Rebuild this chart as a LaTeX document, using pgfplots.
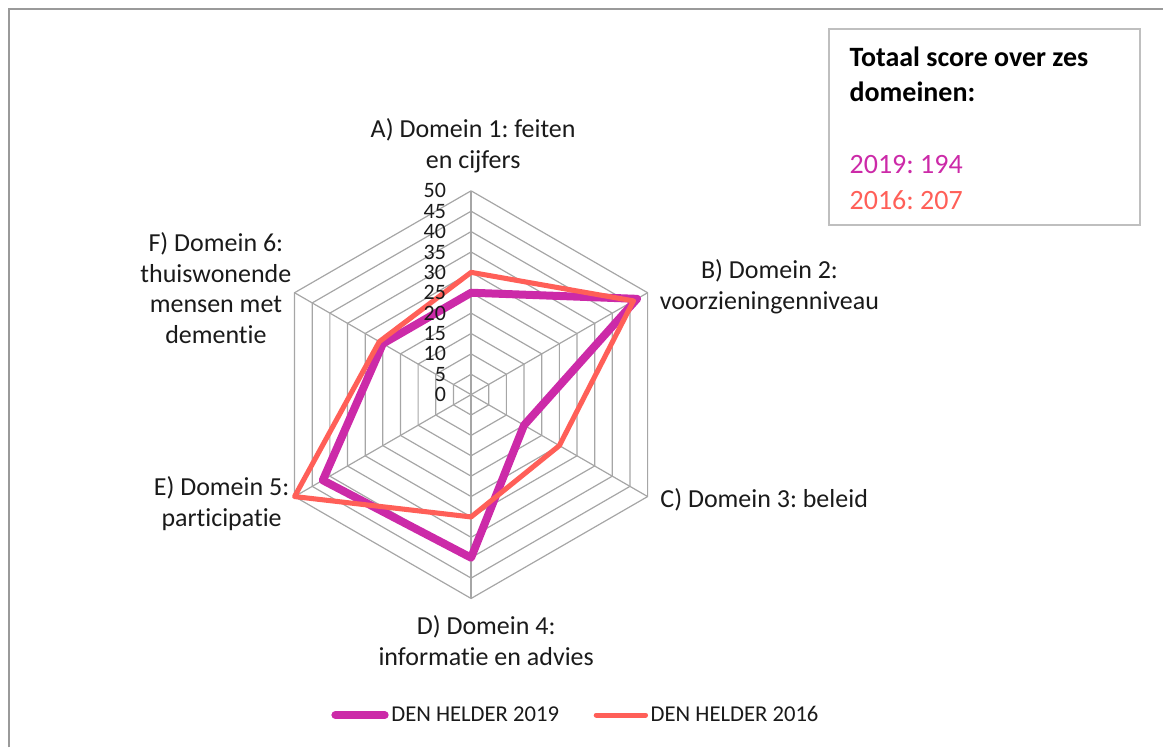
\documentclass[border=0pt]{standalone}
\usepackage{fontspec}
\setmainfont{Carlito}[Ligatures={NoCommon}]
\usepackage{pgfplots}
\usepackage{pgfplotstable}
\pgfplotsset{compat=1.18}

\definecolor{c19}{HTML}{CC2AA8}
\definecolor{c16}{HTML}{FF5F58}
\definecolor{gridgray}{HTML}{A6A6A6}
\definecolor{txt}{HTML}{1A1A1A}
\definecolor{framegray}{HTML}{9A9A9A}
\definecolor{boxgray}{HTML}{BFBFBF}

% angle of each spoke, score 2019, score 2016 (first row repeated to close)
\pgfplotstableread{
angle  y2019  y2016
90     25     30
30     47     46
-30    15     25
-90    40     30
-150   42     50
150    25     26
90     25     30
}\radar

\newcommand{\catfont}{\fontsize{19.5}{23}\selectfont}
\frenchspacing

\begin{document}
\begin{tikzpicture}
\begin{axis}[
    x=3.06pt, y=3.06pt,
    xmin=-115.56, xmax=169.73, ymin=-86.52, ymax=96.81,
    hide axis, clip=false,
    legend columns=2,
    legend style={at={(axis cs:25.8,-78.6)}, anchor=center, draw=none, fill=none,
        font=\fontsize{17}{20}\selectfont, text=txt,
        /tikz/every even column/.append style={column sep=24pt}},
    legend image code/.code={\draw[#1, line cap=round] (0pt,0pt) -- (37pt,0pt);},
]
% page size and outer frame
\path (axis cs:-115.56,-86.52) rectangle (axis cs:169.73,96.81);
\draw[framegray, line width=1.5pt] (axis cs:-113.4,-86.52) -- (axis cs:-113.4,94.6) -- (axis cs:169.73,94.6);

% hexagonal grid
\pgfplotsinvokeforeach{5,10,...,50}{
  \addplot[gridgray, line width=0.9pt, data cs=polar, forget plot]
    coordinates {(90,#1) (30,#1) (-30,#1) (-90,#1) (-150,#1) (150,#1) (90,#1)};
}
\pgfplotsinvokeforeach{90,30,-30,-90,-150,150}{
  \addplot[gridgray, line width=0.9pt, data cs=polar, forget plot]
    coordinates {(#1,0) (#1,50)};
}

% series
\addplot[c19, line width=6pt, line join=round, line cap=round, data cs=polar]
  table[x=angle, y=y2019] {\radar};
\addlegendentry{DEN HELDER 2019}
\addplot[c16, line width=3.8pt, line join=round, line cap=round, data cs=polar]
  table[x=angle, y=y2016] {\radar};
\addlegendentry{DEN HELDER 2016}

% radial tick labels
\pgfplotsinvokeforeach{0,5,...,50}{
  \node[anchor=east, inner sep=0pt, text=txt, font=\fontsize{16.5}{17}\selectfont] at (axis cs:-6.1,#1) {#1};
}

% category labels
\node[align=center, text=txt, font=\catfont] at (axis cs:0.5,61.0) {A) Domein 1: feiten\\en cijfers};
\node[align=center, text=txt, font=\catfont] at (axis cs:73.2,26.5) {B) Domein 2:\\voorzieningenniveau};
\node[align=center, text=txt, font=\catfont] at (axis cs:71.9,-25.7) {C) Domein 3: beleid};
\node[align=center, text=txt, font=\catfont] at (axis cs:3.7,-60.3) {D) Domein 4:\\informatie en advies};
\node[align=center, text=txt, font=\catfont] at (axis cs:-61.2,-26.7) {E) Domein 5:\\participatie};
\node[align=center, text=txt, font=\catfont] at (axis cs:-62.6,26.1) {F) Domein 6:\\thuiswonende\\mensen met\\dementie};

% total score box
\draw[boxgray, line width=1.5pt] (axis cs:87.9,89.7) rectangle (axis cs:164.1,41.7);
\node[anchor=base west, inner sep=0pt, font=\fontsize{21}{25}\selectfont\bfseries] at (axis cs:92.8,80.5) {Totaal score over zes};
\node[anchor=base west, inner sep=0pt, font=\fontsize{21}{25}\selectfont\bfseries] at (axis cs:92.8,71.9) {domeinen:};
\node[anchor=base west, inner sep=0pt, text=c19, font=\fontsize{21}{25}\selectfont] at (axis cs:92.8,54.2) {2019: 194};
\node[anchor=base west, inner sep=0pt, text=c16, font=\fontsize{21}{25}\selectfont] at (axis cs:92.8,45.5) {2016: 207};
\end{axis}
\end{tikzpicture}
\end{document}
